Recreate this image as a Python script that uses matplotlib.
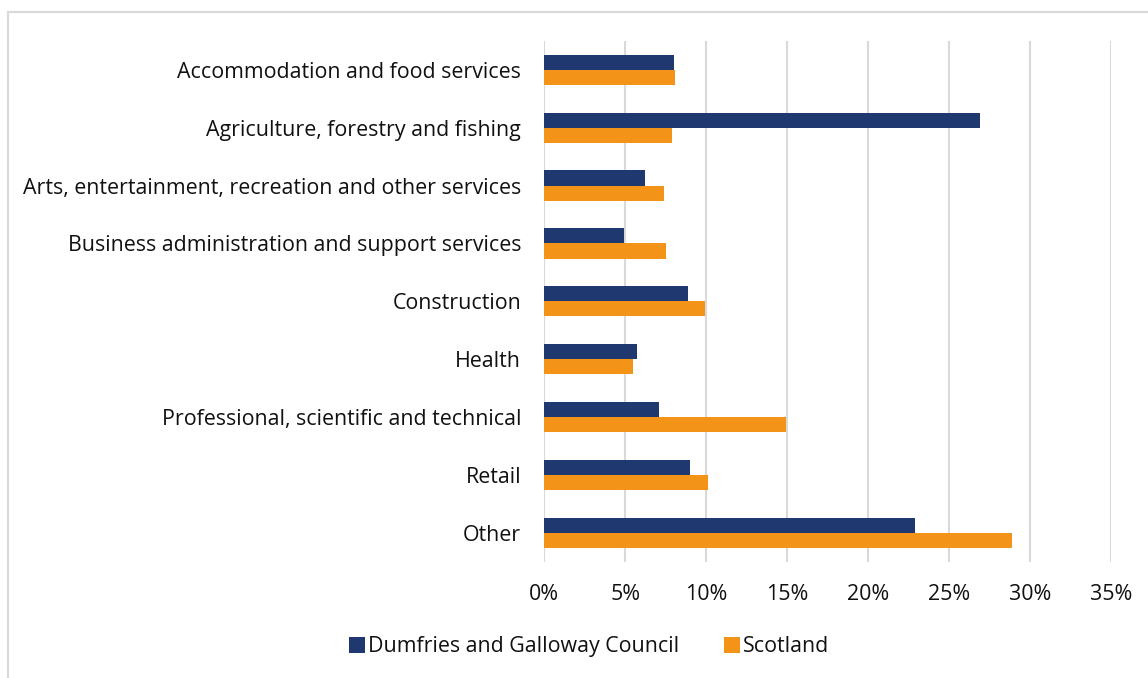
import numpy as np
import matplotlib
matplotlib.use("Agg")
import matplotlib.pyplot as plt
from matplotlib.patches import Rectangle
from matplotlib.ticker import FuncFormatter

plt.rcParams['font.family'] = ['Open Sans', 'DejaVu Sans']

categories = ["Accommodation and food services",
              "Agriculture, forestry and fishing",
              "Arts, entertainment, recreation and other services",
              "Business administration and support services",
              "Construction",
              "Health",
              "Professional, scientific and technical",
              "Retail",
              "Other"]
dumfries = [8.0, 26.9, 6.2, 4.9, 8.9, 5.7, 7.1, 9.0, 22.9]
scotland = [8.1, 7.9, 7.4, 7.5, 9.9, 5.5, 14.9, 10.1, 28.9]
series_names = ["Dumfries and Galloway Council", "Scotland"]
xticks = [0, 5, 10, 15, 20, 25, 30, 35]

navy = "#1F3870"
orange = "#F39317"

fig = plt.figure(figsize=(11.48, 6.78), dpi=100)
ax = fig.add_axes([0.474, 0.171, 0.494, 0.769])

y = np.arange(len(categories))
h = 0.26
ax.barh(y - h / 2, dumfries, height=h, color=navy, label=series_names[0], zorder=3)
ax.barh(y + h / 2, scotland, height=h, color=orange, label=series_names[1], zorder=3)

ax.set_ylim(len(categories) - 0.5, -0.5)
ax.set_xlim(0, 35)
ax.set_xticks(xticks)
ax.xaxis.set_major_formatter(FuncFormatter(lambda v, p: f"{v:.0f}%"))
ax.set_yticks(y)
ax.set_yticklabels(categories)
ax.tick_params(axis='both', length=0, labelsize=15.4, colors="#111111")
ax.tick_params(axis='y', pad=16.5)
ax.tick_params(axis='x', pad=16)
ax.grid(axis='x', color="#D9D9D9", linewidth=1.5, zorder=0)
for s in ax.spines.values():
    s.set_visible(False)

leg = fig.legend(loc='center', bbox_to_anchor=(0.513, 0.046), ncol=2, frameon=False,
                 fontsize=15.4, handlelength=0.75, handleheight=0.75, handletextpad=0.15,
                 columnspacing=2.1)
for t in leg.get_texts():
    t.set_color("#111111")

# outer chart border
fig.add_artist(Rectangle((8 / 1148, -0.1), 1.2, (678 - 12) / 678 + 0.1,
                         transform=fig.transFigure, fill=False,
                         edgecolor="#D9D9D9", linewidth=1.5))

fig.savefig("out.png", dpi=100)
